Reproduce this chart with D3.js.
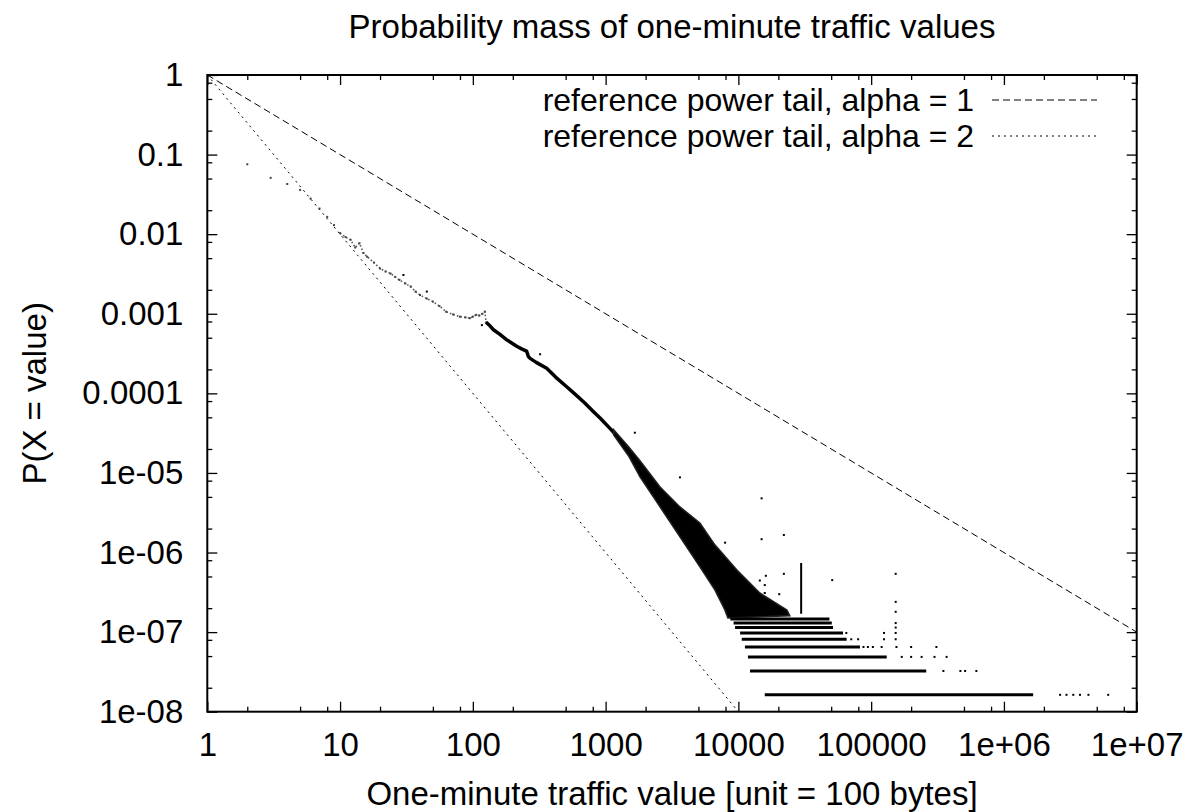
<!DOCTYPE html>
<html>
<head>
<meta charset="utf-8">
<script src="https://cdn.jsdelivr.net/npm/d3@7"></script>
<style>
  body { margin: 0; background: #fff; }
  svg text { font-family: "Liberation Sans", Arial, sans-serif; fill: #000; }
</style>
</head>
<body>
<script>
// axis ticks
var xTicks = [1, 10, 100, 1000, 1e4, 1e5, 1e6, 1e7];
var xTickLabels = ["1", "10", "100", "1000", "10000", "100000", "1e+06", "1e+07"];
var yTicks = [1, 0.1, 0.01, 0.001, 1e-4, 1e-5, 1e-6, 1e-7, 1e-8];
var yTickLabels = ["1", "0.1", "0.01", "0.001", "0.0001", "1e-05", "1e-06", "1e-07", "1e-08"];
var minorSteps = [2, 5, 8];

// reference power tails
var alpha1 = [[1, 1], [1e7, 1e-7]];
var alpha2 = [[1, 1], [1e4, 1e-8]];

// isolated low values
var lowPoints = [[2, 0.0755], [3, 0.051], [4, 0.0427], [5, 0.036], [6, 0.028], [7, 0.021], [8, 0.0165], [9, 0.013]];

// scattered trail 10..126
var trail = [[10, 0.0103], [11, 0.0092], [12, 0.0085], [13, 0.0068], [14, 0.0077], [15, 0.0058], [16, 0.0052],
  [18, 0.0044], [20, 0.0037], [22, 0.0034], [24, 0.0032], [26, 0.0029], [28, 0.00266], [31, 0.0024],
  [34, 0.0022], [37, 0.0019], [40, 0.00172], [45, 0.00155], [50, 0.00142], [56, 0.00125], [63, 0.00106],
  [71, 0.00098], [80, 0.00092], [88, 0.0009], [95, 0.00088], [100, 0.00092], [106, 0.00097], [112, 0.00095],
  [118, 0.001], [123, 0.00106], [126, 0.00078]];

// dense body 126..1500
var body = [[126, 0.00078], [135, 0.0007], [143, 0.00063], [160, 0.00055], [180, 0.00047], [200, 0.00042],
  [214, 0.00039], [235, 0.00036], [254, 0.00034], [262, 0.00029], [270, 0.000275], [300, 0.000245],
  [360, 0.000207], [420, 0.00016], [509, 0.000121], [600, 9.5e-5], [700, 7.5e-5], [800, 6e-5],
  [912, 4.86e-5], [1100, 3.5e-5], [1288, 2.6e-5], [1500, 1.9e-5]];

// spreading cloud outline (upper edge then lower edge)
var cloud = [[1150, 3.5e-5], [1500, 2.1e-5], [1815, 1.42e-5], [2570, 6.67e-6], [3630, 3.74e-6],
  [5130, 2.35e-6], [6650, 1.25e-6], [9750, 6.04e-7], [14500, 3.1e-7], [23200, 1.9e-7], [24400, 1.6e-7],
  [8340, 1.5e-7], [7910, 1.9e-7], [6650, 3.39e-7], [5130, 6.6e-7], [3630, 1.57e-6], [2570, 3.74e-6],
  [1815, 8.9e-6], [1500, 1.6e-5], [1150, 3.0e-5]];

// discrete count levels: level, start, end of dense run
var bandLevels = [1.63e-8, 3.25e-8, 4.88e-8, 6.5e-8, 8.13e-8, 9.76e-8, 1.14e-7, 1.3e-7, 1.46e-7];
var bandStart = [15800, 12240, 11800, 11200, 10600, 10300, 9440, 9200, 8700];
var bandEnd = [1.66e6, 2.6e5, 1.31e5, 82400, 65400, 61400, 51600, 50500, 48500];

// spikes: x, low, high
var spikes = [[29700, 1.7e-7, 7.4e-7]];

// outliers
var outliers = [[30, 0.00307], [45, 0.0019], [117, 0.00072], [321, 0.00031],
  [14960, 4.8e-6], [14960, 1.47e-6], [22000, 1.66e-6], [3630, 8.8e-6], [1660, 3.2e-5],
  [7940, 1.33e-6], [16100, 5.1e-7], [22000, 5.4e-7], [50900, 4.5e-7], [1.53e5, 5.4e-7], [1.53e5, 2.4e-7],
  [15800, 3.9e-7], [15800, 3.1e-7], [20300, 3.0e-7], [14500, 4.45e-7],
  [2.65e6, 1.63e-8], [2.96e6, 1.63e-8], [3.33e6, 1.63e-8], [3.74e6, 1.63e-8], [4.33e6, 1.63e-8], [6.1e6, 1.63e-8],
  [3.5e5, 3.25e-8], [4.7e5, 3.25e-8], [5.1e5, 3.25e-8], [6.2e5, 3.25e-8],
  [1.7e5, 4.88e-8], [2.0e5, 4.88e-8], [2.4e5, 4.88e-8], [3.0e5, 4.88e-8], [3.7e5, 4.88e-8],
  [87500, 6.5e-8], [94500, 6.5e-8], [1.03e5, 6.5e-8], [1.2e5, 6.5e-8], [1.55e5, 6.5e-8], [2.0e5, 6.5e-8], [3.1e5, 6.5e-8],
  [70800, 8.13e-8], [79800, 8.13e-8], [1.25e5, 8.13e-8], [1.53e5, 8.13e-8],
  [65000, 9.76e-8], [1.25e5, 9.76e-8], [1.53e5, 9.76e-8], [1.53e5, 1.14e-7], [1.53e5, 1.3e-7], [1.53e5, 1.8e-7]];

var legendLabels = ["reference power tail, alpha = 1", "reference power tail, alpha = 2"];

var w = 1185, h = 812;
var plot = { left: 207.3, right: 1136.7, top: 75, bottom: 711.7 };
var fontSize = 33;

var x = d3.scaleLog().domain([1, 1e7]).range([plot.left, plot.right]);
var y = d3.scaleLog().domain([1e-8, 1]).range([plot.bottom, plot.top]);

var svg = d3.select("body").append("svg").attr("width", w).attr("height", h);

svg.append("defs").append("clipPath").attr("id", "clip")
  .append("rect").attr("x", plot.left).attr("y", plot.top)
  .attr("width", plot.right - plot.left).attr("height", plot.bottom - plot.top);

var minorX = [], minorY = [];
xTicks.slice(0, -1).forEach(function (d) { minorSteps.forEach(function (m) { minorX.push(d * m); }); });
yTicks.slice(1).forEach(function (d) { minorSteps.forEach(function (m) { minorY.push(d * m); }); });

function styleAxis(g) {
  g.select(".domain").remove();
  g.selectAll("line").attr("stroke", "#000").attr("stroke-width", 1.3);
  g.selectAll("text").style("font-size", fontSize + "px").style("font-family", "Liberation Sans, Arial, sans-serif");
}

// bottom
svg.append("g").attr("transform", "translate(0," + plot.bottom + ")")
  .call(d3.axisBottom(x).tickValues(xTicks).tickSize(-10).tickPadding(21)
    .tickFormat(function (d, i) { return xTickLabels[i]; }))
  .call(styleAxis);
svg.append("g").attr("transform", "translate(0," + plot.bottom + ")")
  .call(d3.axisBottom(x).tickValues(minorX).tickSize(-5).tickFormat(""))
  .call(styleAxis);
// top
svg.append("g").attr("transform", "translate(0," + plot.top + ")")
  .call(d3.axisTop(x).tickValues(xTicks).tickSize(-10).tickFormat(""))
  .call(styleAxis);
svg.append("g").attr("transform", "translate(0," + plot.top + ")")
  .call(d3.axisTop(x).tickValues(minorX).tickSize(-5).tickFormat(""))
  .call(styleAxis);
// left
svg.append("g").attr("transform", "translate(" + plot.left + ",0)")
  .call(d3.axisLeft(y).tickValues(yTicks).tickSize(-10).tickPadding(24)
    .tickFormat(function (d, i) { return yTickLabels[i]; }))
  .call(styleAxis);
svg.append("g").attr("transform", "translate(" + plot.left + ",0)")
  .call(d3.axisLeft(y).tickValues(minorY).tickSize(-5).tickFormat(""))
  .call(styleAxis);
// right
svg.append("g").attr("transform", "translate(" + plot.right + ",0)")
  .call(d3.axisRight(y).tickValues(yTicks).tickSize(-10).tickFormat(""))
  .call(styleAxis);
svg.append("g").attr("transform", "translate(" + plot.right + ",0)")
  .call(d3.axisRight(y).tickValues(minorY).tickSize(-5).tickFormat(""))
  .call(styleAxis);

var line = d3.line().x(function (d) { return x(d[0]); }).y(function (d) { return y(d[1]); });
var g = svg.append("g").attr("clip-path", "url(#clip)");

// reference lines
g.append("path").attr("d", line(alpha1)).attr("fill", "none").attr("stroke", "#000")
  .attr("stroke-width", 1).attr("stroke-dasharray", "7,4");
g.append("path").attr("d", line(alpha2)).attr("fill", "none").attr("stroke", "#000")
  .attr("stroke-width", 1).attr("stroke-dasharray", "2,4");

// data
g.selectAll("rect.low").data(lowPoints).enter().append("rect")
  .attr("x", function (d) { return x(d[0]) - 1; }).attr("y", function (d) { return y(d[1]) - 1; })
  .attr("width", 2).attr("height", 2).attr("fill", "#444");

g.append("path").attr("d", line(trail)).attr("fill", "none").attr("stroke", "#555")
  .attr("stroke-width", 1.6).attr("stroke-dasharray", "1.5,2.2");
g.selectAll("rect.trail").data(trail).enter().append("rect")
  .attr("x", function (d) { return x(d[0]) - 1; }).attr("y", function (d) { return y(d[1]) - 1; })
  .attr("width", 2).attr("height", 2).attr("fill", "#444");

g.append("path").attr("d", line(body)).attr("fill", "none").attr("stroke", "#000")
  .attr("stroke-width", 3.5).attr("stroke-linejoin", "round");

g.append("path").attr("d", line(cloud) + "Z").attr("fill", "#000").attr("stroke", "#222").attr("stroke-width", 1.5);

g.selectAll("line.band").data(bandLevels).enter().append("line")
  .attr("x1", function (d, i) { return x(bandStart[i]); })
  .attr("x2", function (d, i) { return x(bandEnd[i]); })
  .attr("y1", function (d) { return y(d); }).attr("y2", function (d) { return y(d); })
  .attr("stroke", "#000").attr("stroke-width", 3);

g.selectAll("line.spike").data(spikes).enter().append("line")
  .attr("x1", function (d) { return x(d[0]); }).attr("x2", function (d) { return x(d[0]); })
  .attr("y1", function (d) { return y(d[1]); }).attr("y2", function (d) { return y(d[2]); })
  .attr("stroke", "#000").attr("stroke-width", 2);

g.selectAll("rect.out").data(outliers).enter().append("rect")
  .attr("x", function (d) { return x(d[0]) - 1; }).attr("y", function (d) { return y(d[1]) - 1; })
  .attr("width", 2).attr("height", 2).attr("fill", "#000");

// frame
svg.append("rect").attr("x", plot.left).attr("y", plot.top)
  .attr("width", plot.right - plot.left).attr("height", plot.bottom - plot.top)
  .attr("fill", "none").attr("stroke", "#000").attr("stroke-width", 2);

// legend
var legend = svg.append("g");
legendLabels.forEach(function (t, i) {
  var ly = 100 + i * 36;
  legend.append("text").attr("x", 974).attr("y", ly).attr("dy", "0.35em")
    .attr("text-anchor", "end").style("font-size", "32px").text(t);
  legend.append("line").attr("x1", 992).attr("x2", 1097).attr("y1", ly).attr("y2", ly)
    .attr("stroke", "#000").attr("stroke-width", 1)
    .attr("stroke-dasharray", i == 0 ? "7,4" : "2,4");
});

// titles
svg.append("text").attr("x", (plot.left + plot.right) / 2).attr("y", 38)
  .attr("text-anchor", "middle").style("font-size", fontSize + "px")
  .text("Probability mass of one-minute traffic values");
svg.append("text").attr("x", (plot.left + plot.right) / 2).attr("y", 805)
  .attr("text-anchor", "middle").style("font-size", fontSize + "px")
  .text("One-minute traffic value [unit = 100 bytes]");
svg.append("text").attr("transform", "translate(46," + (plot.top + plot.bottom) / 2 + ") rotate(-90)")
  .attr("text-anchor", "middle").style("font-size", fontSize + "px")
  .text("P(X = value)");
</script>
</body>
</html>
